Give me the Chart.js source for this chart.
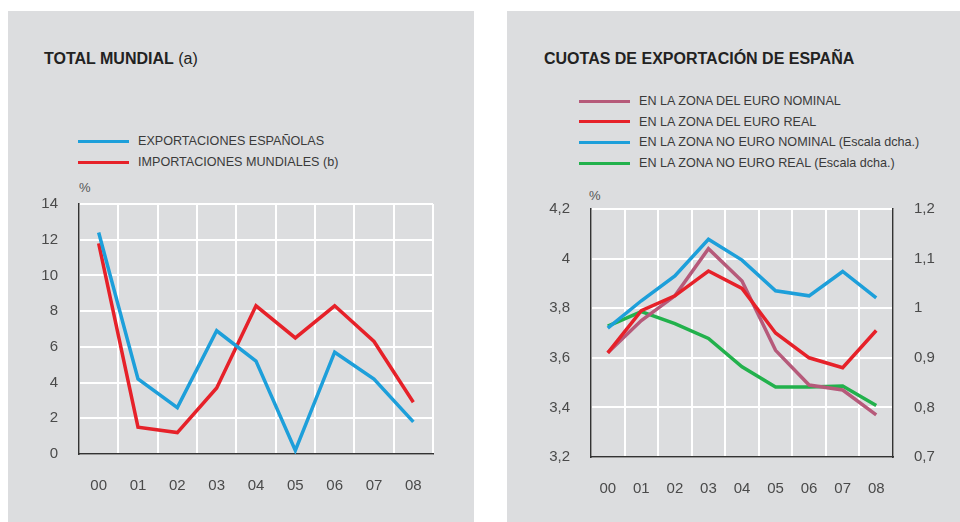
<!DOCTYPE html>
<html>
<head>
<meta charset="utf-8">
<script src="https://cdn.jsdelivr.net/npm/chart.js@4/dist/chart.umd.min.js"></script>
<style>
  body { margin: 0; background: #fff; width: 960px; height: 522px; position: relative; overflow: hidden;
         font-family: "Liberation Sans", Arial, sans-serif; color: #333; }
  .panel { position: absolute; top: 11px; height: 511px; background: #dcdddf; }
  .title { position: absolute; font-size: 16px; line-height: 16px; white-space: nowrap; color: #222; }
  .title b { font-weight: bold; }
  .leg-line { position: absolute; height: 3px; }
  .leg-text { position: absolute; font-size: 12.6px; line-height: 14px; white-space: nowrap; color: #3a3a3a; }
  .unit { position: absolute; font-size: 13px; line-height: 14px; color: #555; }
  canvas { position: absolute; }
</style>
</head>
<body>
<div class="panel" style="left:8px;width:466px;"></div>
<div class="panel" style="left:507px;width:453px;"></div>

<div class="title" style="left:44px;top:51px;"><b>TOTAL MUNDIAL</b> (a)</div>
<div class="title" style="left:544px;top:51px;"><b>CUOTAS DE EXPORTACIÓN DE ESPAÑA</b></div>
<div class="unit" style="left:79px;top:181px;">%</div>
<div class="unit" style="left:589px;top:189px;">%</div>
<div id="legend1"></div>
<div id="legend2"></div>

<canvas id="chart1" width="466" height="352" style="left:8px;top:170px;"></canvas>
<canvas id="chart2" width="453" height="352" style="left:507px;top:170px;"></canvas>

<script>
// Data
const years = ['00', '01', '02', '03', '04', '05', '06', '07', '08'];

// Total mundial (%)
const exportacionesEspanolas = [12.4, 4.2, 2.6, 6.9, 5.2, 0.2, 5.7, 4.2, 1.8];
const importacionesMundiales = [11.8, 1.5, 1.2, 3.7, 8.3, 6.5, 8.3, 6.3, 2.9];
const leftNames = ['EXPORTACIONES ESPAÑOLAS', 'IMPORTACIONES MUNDIALES (b)'];

// Cuotas de exportación
const zonaEuroNominal = [3.62, 3.75, 3.85, 4.04, 3.91, 3.63, 3.49, 3.47, 3.37];
const zonaEuroReal = [3.62, 3.79, 3.85, 3.95, 3.88, 3.70, 3.60, 3.56, 3.71];
const zonaNoEuroNominal = [0.96, 1.015, 1.065, 1.139, 1.097, 1.035, 1.025, 1.074, 1.021];
const zonaNoEuroReal = [0.964, 0.993, 0.969, 0.939, 0.882, 0.841, 0.841, 0.843, 0.804];
const rightNames = [
    'EN LA ZONA DEL EURO NOMINAL',
    'EN LA ZONA DEL EURO REAL',
    'EN LA ZONA NO EURO NOMINAL (Escala dcha.)',
    'EN LA ZONA NO EURO REAL (Escala dcha.)'
];

const BLUE = '#1d9fda';
const RED = '#e62129';
const PINK = '#b65a7a';
const GREEN = '#22b14c';

const AXIS = '#333';
const GRID = '#ffffff';
const TICK = '#4a4a4a';
const tickFont = { family: '"Liberation Sans", Arial, sans-serif', size: 15 };

function comma(v) {
    return String(Math.round(v * 10) / 10).replace('.', ',');
}

// Legends built from the series names
function buildLegend(id, names, colors, lineX, textX, ys) {
    const el = document.getElementById(id);
    let html = '';
    names.forEach((name, i) => {
        html += `<div class="leg-line" style="left:${lineX}px;width:51px;top:${ys[i] - 1.5}px;background:${colors[i]}"></div>`;
        html += `<div class="leg-text" style="left:${textX}px;top:${ys[i] - 7}px;">${name}</div>`;
    });
    el.innerHTML = html;
}
buildLegend('legend1', leftNames, [BLUE, RED], 78, 138, [141, 162]);
buildLegend('legend2', rightNames, [PINK, RED, BLUE, GREEN], 579, 639, [101, 121.5, 142, 163]);

function lineSet(label, data, color, axis) {
    return {
        label: label,
        data: data,
        borderColor: color,
        backgroundColor: color,
        borderWidth: 3.5,
        pointRadius: 0,
        tension: 0,
        fill: false,
        yAxisID: axis || 'y'
    };
}

const xScale = (height) => ({
    type: 'category',
    offset: true,
    grid: { color: GRID, lineWidth: 2, offset: true, drawTicks: false },
    border: { display: true, color: AXIS, width: 1.5 },
    ticks: { color: TICK, font: tickFont, padding: 23, maxRotation: 0, autoSkip: false },
    afterFit: function(scale) { scale.height = height; }
});

// Left chart
new Chart(document.getElementById('chart1').getContext('2d'), {
    type: 'line',
    data: {
        labels: years,
        datasets: [
            lineSet(leftNames[0], exportacionesEspanolas, BLUE),
            lineSet(leftNames[1], importacionesMundiales, RED)
        ]
    },
    options: {
        responsive: false,
        animation: false,
        devicePixelRatio: 1,
        layout: { padding: { top: 34, right: 41, left: 0, bottom: 0 } },
        plugins: { legend: { display: false }, tooltip: { enabled: false } },
        scales: {
            x: xScale(68),
            y: {
                min: 0,
                max: 14,
                ticks: { stepSize: 2, color: TICK, font: tickFont, padding: 21 },
                grid: { color: GRID, lineWidth: 2, drawTicks: false },
                border: { display: true, color: AXIS, width: 1.5 },
                afterFit: function(scale) { scale.width = 71; }
            }
        }
    }
});

// Right chart
new Chart(document.getElementById('chart2').getContext('2d'), {
    type: 'line',
    data: {
        labels: years,
        datasets: [
            lineSet(rightNames[1], zonaEuroReal, RED),
            lineSet(rightNames[0], zonaEuroNominal, PINK),
            lineSet(rightNames[2], zonaNoEuroNominal, BLUE, 'y1'),
            lineSet(rightNames[3], zonaNoEuroReal, GREEN, 'y1')
        ]
    },
    options: {
        responsive: false,
        animation: false,
        devicePixelRatio: 1,
        layout: { padding: { top: 39, right: 0, left: 0, bottom: 0 } },
        plugins: { legend: { display: false }, tooltip: { enabled: false } },
        scales: {
            x: xScale(65),
            y: {
                position: 'left',
                min: 3.2,
                max: 4.2,
                ticks: { stepSize: 0.2, color: TICK, font: tickFont, padding: 21, callback: comma },
                grid: { color: GRID, lineWidth: 2, drawTicks: false },
                border: { display: true, color: AXIS, width: 1.5 },
                afterFit: function(scale) { scale.width = 84; }
            },
            y1: {
                position: 'right',
                min: 0.7,
                max: 1.2,
                ticks: { stepSize: 0.1, color: TICK, font: tickFont, padding: 21, callback: comma },
                grid: { display: false, drawTicks: false },
                border: { display: true, color: AXIS, width: 1.5 },
                afterFit: function(scale) { scale.width = 67; }
            }
        }
    }
});
</script>
</body>
</html>
